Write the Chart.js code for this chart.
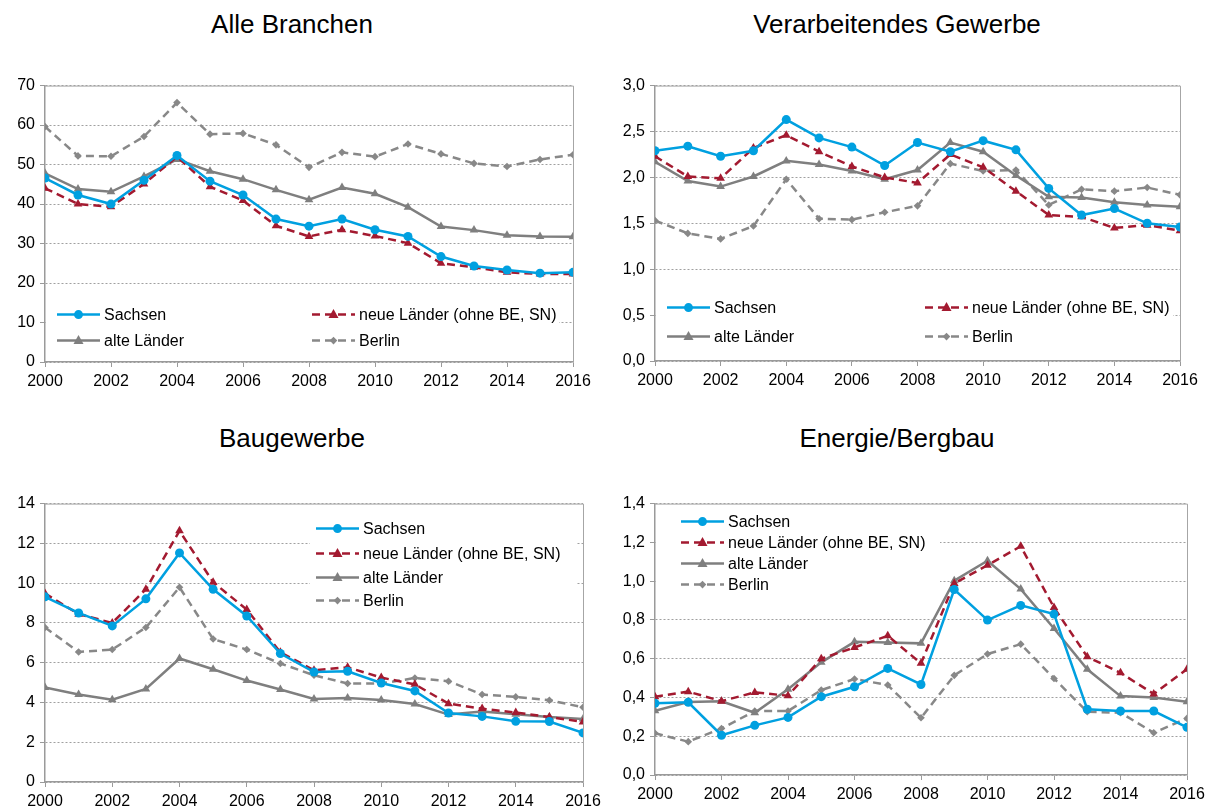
<!DOCTYPE html>
<html>
<head>
<meta charset="utf-8">
<script src="https://cdn.jsdelivr.net/npm/chart.js@4.4.1/dist/chart.umd.min.js"></script>
<style>
  html, body { margin: 0; padding: 0; background: #fff; width: 1211px; height: 809px; overflow: hidden; }
  canvas { position: absolute; }
  .title { position: absolute; width: 600px; text-align: center; font-family: "Liberation Sans", Arial, sans-serif; font-size: 26px; line-height: 30px; color: #000; }
</style>
</head>
<body>
<div class="title" style="left:-8px; top:9px;">Alle Branchen</div>
<div class="title" style="left:597px; top:9px;">Verarbeitendes Gewerbe</div>
<div class="title" style="left:-8px; top:423px;">Baugewerbe</div>
<div class="title" style="left:597px; top:423px;">Energie/Bergbau</div>
<canvas id="c1" width="598" height="318" style="left:0px; top:71px;"></canvas>
<canvas id="c2" width="595" height="317" style="left:610px; top:71px;"></canvas>
<canvas id="c3" width="608" height="320" style="left:0px; top:489px;"></canvas>
<canvas id="c4" width="602" height="313" style="left:610px; top:489px;"></canvas>
<script>
// ---------- data ----------
const years = [2000, 2001, 2002, 2003, 2004, 2005, 2006, 2007, 2008, 2009, 2010, 2011, 2012, 2013, 2014, 2015, 2016];
const seriesNames = ["Sachsen", "neue Länder (ohne BE, SN)", "alte Länder", "Berlin"];
const chartTitles = ["Alle Branchen", "Verarbeitendes Gewerbe", "Baugewerbe", "Energie/Bergbau"];

const alleSachsen = [46.6, 42.3, 40.0, 46.0, 52.3, 45.8, 42.3, 36.2, 34.4, 36.2, 33.5, 31.8, 26.7, 24.3, 23.3, 22.5, 22.7];
const alleNeue    = [44.0, 40.0, 39.3, 45.1, 52.0, 44.4, 40.9, 34.5, 31.8, 33.5, 31.9, 30.1, 25.0, 24.0, 22.7, 22.3, 22.3];
const alleAlte    = [47.8, 43.8, 43.1, 47.0, 51.3, 48.3, 46.3, 43.6, 41.1, 44.2, 42.6, 39.2, 34.3, 33.4, 32.1, 31.8, 31.7];
const alleBerlin  = [59.6, 52.2, 52.1, 57.1, 65.7, 57.7, 57.9, 55.0, 49.3, 53.1, 52.0, 55.2, 52.7, 50.3, 49.5, 51.3, 52.5];

const vgSachsen = [2.29, 2.34, 2.23, 2.29, 2.63, 2.43, 2.33, 2.13, 2.38, 2.28, 2.40, 2.30, 1.88, 1.59, 1.66, 1.50, 1.46];
const vgNeue    = [2.23, 2.01, 1.99, 2.32, 2.46, 2.28, 2.12, 2.00, 1.94, 2.25, 2.11, 1.85, 1.59, 1.57, 1.45, 1.48, 1.42];
const vgAlte    = [2.17, 1.96, 1.90, 2.01, 2.18, 2.14, 2.07, 1.98, 2.08, 2.38, 2.28, 2.02, 1.79, 1.78, 1.73, 1.70, 1.68];
const vgBerlin  = [1.53, 1.39, 1.33, 1.47, 1.98, 1.55, 1.54, 1.62, 1.69, 2.15, 2.07, 2.08, 1.70, 1.87, 1.85, 1.89, 1.81];

const bauSachsen = [9.31, 8.50, 7.85, 9.21, 11.52, 9.69, 8.35, 6.46, 5.53, 5.57, 4.98, 4.58, 3.47, 3.30, 3.05, 3.04, 2.47];
const bauNeue    = [9.48, 8.44, 8.00, 9.69, 12.63, 10.05, 8.67, 6.52, 5.62, 5.77, 5.25, 4.91, 3.94, 3.69, 3.49, 3.27, 3.02];
const bauAlte    = [4.75, 4.40, 4.14, 4.68, 6.21, 5.67, 5.10, 4.65, 4.18, 4.23, 4.12, 3.92, 3.39, 3.54, 3.41, 3.27, 3.17];
const bauBerlin  = [7.77, 6.54, 6.66, 7.77, 9.79, 7.19, 6.66, 5.96, 5.37, 4.95, 4.95, 5.23, 5.07, 4.40, 4.28, 4.11, 3.76];

const enSachsen = [0.370, 0.375, 0.205, 0.256, 0.297, 0.404, 0.455, 0.550, 0.467, 0.957, 0.799, 0.875, 0.830, 0.339, 0.330, 0.330, 0.246];
const enNeue    = [0.404, 0.430, 0.381, 0.426, 0.409, 0.600, 0.658, 0.718, 0.576, 0.988, 1.082, 1.180, 0.864, 0.610, 0.527, 0.418, 0.546];
const enAlte    = [0.331, 0.376, 0.380, 0.321, 0.442, 0.581, 0.687, 0.684, 0.679, 1.002, 1.105, 0.959, 0.756, 0.545, 0.407, 0.400, 0.378];
const enBerlin  = [0.215, 0.172, 0.240, 0.330, 0.330, 0.438, 0.495, 0.464, 0.295, 0.514, 0.624, 0.675, 0.498, 0.326, 0.321, 0.218, 0.292];

const yTicks1 = [0, 70, 10];
const yTicks2 = [0, 3.0, 0.5];
const yTicks3 = [0, 14, 2];
const yTicks4 = [0, 1.4, 0.2];

// ---------- styling ----------
const FONT = '"Liberation Sans", Arial, Helvetica, sans-serif';
Chart.defaults.font.family = FONT;
Chart.defaults.font.size = 16;
Chart.defaults.color = '#000';

const styles = [
  { color: '#00A0E0', dash: [], point: 'circle', r: 4.5 },
  { color: '#A31A30', dash: [8, 5], point: 'triangle', r: 5 },
  { color: '#7F7F7F', dash: [], point: 'triangle', r: 5 },
  { color: '#888888', dash: [8, 5], point: 'rectRot', r: 3.8 }
];

function toPoints(arr) { return years.map((y, i) => ({ x: y, y: arr[i] })); }

function drawMarker(ctx, style, x, y) {
  const r = style.r;
  ctx.save();
  ctx.fillStyle = style.color;
  ctx.beginPath();
  if (style.point === 'circle') {
    ctx.arc(x, y, r, 0, Math.PI * 2);
  } else if (style.point === 'triangle') {
    ctx.moveTo(x, y - r * 1.1);
    ctx.lineTo(x + r, y + r * 0.7);
    ctx.lineTo(x - r, y + r * 0.7);
    ctx.closePath();
  } else {
    ctx.moveTo(x, y - r); ctx.lineTo(x + r, y); ctx.lineTo(x, y + r); ctx.lineTo(x - r, y); ctx.closePath();
  }
  ctx.fill();
  ctx.restore();
}

function makeLegendPlugin(cfg) {
  return {
    id: 'insideLegend',
    beforeDatasetsDraw(chart) {
      const a = chart.chartArea, ctx = chart.ctx;
      ctx.save();
      ctx.fillStyle = '#fff';
      ctx.fillRect(a.left + cfg.box[0], a.top + cfg.box[1], cfg.box[2] - cfg.box[0], cfg.box[3] - cfg.box[1]);
      ctx.restore();
    },
    afterDatasetsDraw(chart) {
      const a = chart.chartArea, ctx = chart.ctx;
      ctx.save();
      chart.data.datasets.forEach((ds, i) => {
        const st = styles[i];
        const x0 = a.left + cfg.items[i][0];
        const y0 = a.top + cfg.items[i][1];
        ctx.save();
        ctx.strokeStyle = st.color;
        ctx.lineWidth = 2.5;
        ctx.setLineDash(st.dash);
        ctx.beginPath();
        ctx.moveTo(x0, y0);
        ctx.lineTo(x0 + 43, y0);
        ctx.stroke();
        ctx.restore();
        drawMarker(ctx, st, x0 + 21.5, y0);
        ctx.fillStyle = '#000';
        ctx.font = '16px ' + FONT;
        ctx.textBaseline = 'middle';
        ctx.textAlign = 'left';
        ctx.fillText(ds.label, x0 + 47, y0 + 1);
      });
      ctx.restore();
    }
  };
}

const framePlugin = {
  id: 'frame',
  beforeDatasetsDraw(chart) {
    const a = chart.chartArea, ctx = chart.ctx;
    ctx.save();
    ctx.strokeStyle = '#A6A6A6';
    ctx.lineWidth = 1;
    ctx.beginPath();
    ctx.moveTo(a.left, a.top + 0.5);
    ctx.lineTo(a.right + 0.5, a.top + 0.5);
    ctx.lineTo(a.right + 0.5, a.bottom);
    ctx.stroke();
    ctx.restore();
  }
};

function makeChart(id, series, yt, decimals, legendCfg) {
  const fmt = v => decimals ? Number(v).toFixed(decimals).replace('.', ',') : String(Math.round(v));
  return new Chart(document.getElementById(id), {
    type: 'line',
    data: {
      datasets: series.map((arr, i) => ({
        label: seriesNames[i],
        data: toPoints(arr),
        borderColor: styles[i].color,
        backgroundColor: styles[i].color,
        borderWidth: 2.5,
        borderDash: styles[i].dash,
        pointStyle: styles[i].point,
        pointRadius: styles[i].r,
        pointBorderWidth: 0,
        pointBackgroundColor: styles[i].color,
        tension: 0,
        fill: false
      }))
    },
    options: {
      responsive: false,
      animation: false,
      layout: { padding: { top: 6, right: 25, left: 0, bottom: 0 } },
      plugins: { legend: { display: false }, tooltip: { enabled: false }, title: { display: false } },
      scales: {
        x: {
          type: 'linear', min: 2000, max: 2016,
          ticks: { stepSize: 2, autoSkip: false, maxRotation: 0, padding: 5, color: '#000', font: { size: 16 }, callback: v => String(v) },
          grid: { drawOnChartArea: false, drawTicks: true, tickLength: 5, tickColor: '#9A9A9A', color: '#9A9A9A' },
          border: { color: '#9A9A9A', width: 1.5 },
          afterFit: s => { s.height = 27; }
        },
        y: {
          min: yt[0], max: yt[1],
          ticks: { stepSize: yt[2], padding: 5, color: '#000', font: { size: 16 }, callback: fmt },
          grid: { color: '#A0A0A0', lineWidth: 1, tickLength: 5, tickColor: '#9A9A9A', tickBorderDash: [] },
          border: { color: '#9A9A9A', width: 1.5, dash: [2, 2] },
          afterFit: s => { s.width = 45; }
        }
      }
    },
    plugins: [framePlugin, makeLegendPlugin(legendCfg)]
  });
}

makeChart('c1', [alleSachsen, alleNeue, alleAlte, alleBerlin], yTicks1, 0,
  { box: [1, 208, 514, 272], items: [[12, 229], [267, 229], [12, 255], [267, 255]] });
makeChart('c2', [vgSachsen, vgNeue, vgAlte, vgBerlin], yTicks2, 1,
  { box: [1, 203, 518, 268], items: [[12, 222], [270, 222], [12, 251], [270, 251]] });
makeChart('c3', [bauSachsen, bauNeue, bauAlte, bauBerlin], yTicks3, 0,
  { box: [265, 7, 532, 109], items: [[271, 25], [271, 50], [271, 74], [271, 97]] });
makeChart('c4', [enSachsen, enNeue, enAlte, enBerlin], yTicks4, 1,
  { box: [1, 2, 285, 97], items: [[26, 18], [26, 39], [26, 60], [26, 81]] });
</script>
</body>
</html>
